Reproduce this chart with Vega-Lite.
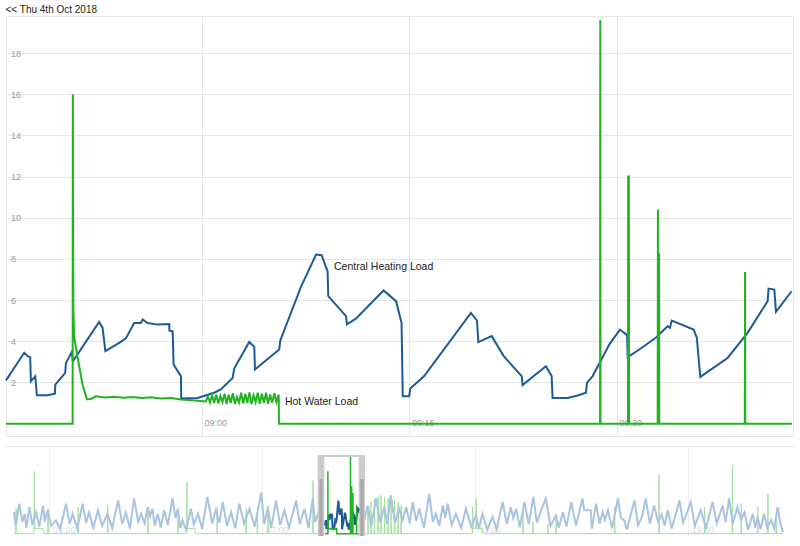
{
"$schema": "https://vega.github.io/schema/vega-lite/v6.json",
"padding": {"left": 1, "top": 4, "right": 3, "bottom": 4},
"title": {"text": "<< Thu 4th Oct 2018", "anchor": "start", "fontSize": 10, "fontWeight": "normal", "color": "#222222", "offset": 1, "dx": 4, "font": "Liberation Sans"},
"spacing": 9,
"config": {"font": "Liberation Sans", "view": {"stroke": "#e6e6e6"}},
"datasets": {
"ch": [
{"t":"2018-10-04T08:45:50","v":2.1},{"t":"2018-10-04T08:47:09","v":3.44},{"t":"2018-10-04T08:47:24","v":3.28},{"t":"2018-10-04T08:47:35","v":3.23},{"t":"2018-10-04T08:47:38","v":2.06},{"t":"2018-10-04T08:47:57","v":2.3},{"t":"2018-10-04T08:48:04","v":1.38},{"t":"2018-10-04T08:48:51","v":1.38},{"t":"2018-10-04T08:49:22","v":1.45},{"t":"2018-10-04T08:49:24","v":1.9},{"t":"2018-10-04T08:50:07","v":2.47},{"t":"2018-10-04T08:50:10","v":2.95},{"t":"2018-10-04T08:50:36","v":3.49},{"t":"2018-10-04T08:50:40","v":3.03},{"t":"2018-10-04T08:52:34","v":4.94},{"t":"2018-10-04T08:52:49","v":4.65},{"t":"2018-10-04T08:53:01","v":3.52},{"t":"2018-10-04T08:54:01","v":3.92},{"t":"2018-10-04T08:54:30","v":4.14},{"t":"2018-10-04T08:55:06","v":4.89},{"t":"2018-10-04T08:55:35","v":4.89},{"t":"2018-10-04T08:55:43","v":5.06},{"t":"2018-10-04T08:56:04","v":4.89},{"t":"2018-10-04T08:56:48","v":4.81},{"t":"2018-10-04T08:57:38","v":4.84},{"t":"2018-10-04T08:57:39","v":4.52},{"t":"2018-10-04T08:57:53","v":4.49},{"t":"2018-10-04T08:57:57","v":2.87},{"t":"2018-10-04T08:58:15","v":2.55},{"t":"2018-10-04T08:58:29","v":2.3},{"t":"2018-10-04T08:58:30","v":1.22},{"t":"2018-10-04T08:59:41","v":1.25},{"t":"2018-10-04T09:00:53","v":1.5},{"t":"2018-10-04T09:01:22","v":1.66},{"t":"2018-10-04T09:02:13","v":2.22},{"t":"2018-10-04T09:02:20","v":2.68},{"t":"2018-10-04T09:03:25","v":3.97},{"t":"2018-10-04T09:03:47","v":3.73},{"t":"2018-10-04T09:03:50","v":2.63},{"t":"2018-10-04T09:05:35","v":3.6},{"t":"2018-10-04T09:05:40","v":4.04},{"t":"2018-10-04T09:07:09","v":6.63},{"t":"2018-10-04T09:07:45","v":7.49},{"t":"2018-10-04T09:08:15","v":8.21},{"t":"2018-10-04T09:08:39","v":8.18},{"t":"2018-10-04T09:09:05","v":7.4},{"t":"2018-10-04T09:09:08","v":6.19},{"t":"2018-10-04T09:10:25","v":5.22},{"t":"2018-10-04T09:10:29","v":4.82},{"t":"2018-10-04T09:11:08","v":5.1},{"t":"2018-10-04T09:13:08","v":6.47},{"t":"2018-10-04T09:14:02","v":5.95},{"t":"2018-10-04T09:14:26","v":4.89},{"t":"2018-10-04T09:14:31","v":1.33},{"t":"2018-10-04T09:14:59","v":1.33},{"t":"2018-10-04T09:15:04","v":1.71},{"t":"2018-10-04T09:16:04","v":2.31},{"t":"2018-10-04T09:19:27","v":5.38},{"t":"2018-10-04T09:19:53","v":5.01},{"t":"2018-10-04T09:19:59","v":3.96},{"t":"2018-10-04T09:20:57","v":4.25},{"t":"2018-10-04T09:21:49","v":3.28},{"t":"2018-10-04T09:23:07","v":2.31},{"t":"2018-10-04T09:23:11","v":1.87},{"t":"2018-10-04T09:24:52","v":2.79},{"t":"2018-10-04T09:25:17","v":2.31},{"t":"2018-10-04T09:25:21","v":1.25},{"t":"2018-10-04T09:26:26","v":1.25},{"t":"2018-10-04T09:27:10","v":1.37},{"t":"2018-10-04T09:27:46","v":1.5},{"t":"2018-10-04T09:27:50","v":1.98},{"t":"2018-10-04T09:28:15","v":2.31},{"t":"2018-10-04T09:29:27","v":3.84},{"t":"2018-10-04T09:30:13","v":4.57},{"t":"2018-10-04T09:30:44","v":4.3},{"t":"2018-10-04T09:30:47","v":3.23},{"t":"2018-10-04T09:31:37","v":3.6},{"t":"2018-10-04T09:32:49","v":4.17},{"t":"2018-10-04T09:33:40","v":4.73},{"t":"2018-10-04T09:33:50","v":4.65},{"t":"2018-10-04T09:33:58","v":5.01},{"t":"2018-10-04T09:35:33","v":4.57},{"t":"2018-10-04T09:35:47","v":4.17},{"t":"2018-10-04T09:35:53","v":3.36},{"t":"2018-10-04T09:36:02","v":2.27},{"t":"2018-10-04T09:38:00","v":3.19},{"t":"2018-10-04T09:39:27","v":4.41},{"t":"2018-10-04T09:40:54","v":5.95},{"t":"2018-10-04T09:40:58","v":6.56},{"t":"2018-10-04T09:41:23","v":6.51},{"t":"2018-10-04T09:41:30","v":5.43},{"t":"2018-10-04T09:42:38","v":6.43}
],
"hw": [
{"t":"2018-10-04T08:45:50","v":0},{"t":"2018-10-04T08:50:39","v":0},{"t":"2018-10-04T08:50:40","v":16.0},{"t":"2018-10-04T08:50:42","v":5.6},{"t":"2018-10-04T08:50:46","v":4.2},{"t":"2018-10-04T08:51:01","v":3.2},{"t":"2018-10-04T08:51:22","v":1.9},{"t":"2018-10-04T08:51:41","v":1.19},{"t":"2018-10-04T08:51:58","v":1.2},{"t":"2018-10-04T08:52:20","v":1.33},{"t":"2018-10-04T08:53:00","v":1.27},{"t":"2018-10-04T08:53:40","v":1.31},{"t":"2018-10-04T08:54:20","v":1.26},{"t":"2018-10-04T08:55:00","v":1.3},{"t":"2018-10-04T08:55:40","v":1.25},{"t":"2018-10-04T08:56:20","v":1.28},{"t":"2018-10-04T08:57:00","v":1.22},{"t":"2018-10-04T08:57:46","v":1.25},{"t":"2018-10-04T08:58:30","v":1.17},{"t":"2018-10-04T08:59:30","v":1.12},{"t":"2018-10-04T09:00:17","v":1.08},
{"t":"2018-10-04T09:00:26","v":1.32},{"t":"2018-10-04T09:00:35","v":1.02},{"t":"2018-10-04T09:00:44","v":1.38},{"t":"2018-10-04T09:00:53","v":1.0},{"t":"2018-10-04T09:01:02","v":1.42},{"t":"2018-10-04T09:01:11","v":0.98},{"t":"2018-10-04T09:01:20","v":1.35},{"t":"2018-10-04T09:01:29","v":1.05},{"t":"2018-10-04T09:01:38","v":1.45},{"t":"2018-10-04T09:01:47","v":0.97},{"t":"2018-10-04T09:01:56","v":1.4},{"t":"2018-10-04T09:02:05","v":1.0},{"t":"2018-10-04T09:02:14","v":1.48},{"t":"2018-10-04T09:02:23","v":0.96},{"t":"2018-10-04T09:02:32","v":1.3},{"t":"2018-10-04T09:02:41","v":1.02},{"t":"2018-10-04T09:02:50","v":1.5},{"t":"2018-10-04T09:02:59","v":0.98},{"t":"2018-10-04T09:03:08","v":1.44},{"t":"2018-10-04T09:03:17","v":1.0},{"t":"2018-10-04T09:03:26","v":1.52},{"t":"2018-10-04T09:03:35","v":0.95},{"t":"2018-10-04T09:03:44","v":1.38},{"t":"2018-10-04T09:03:53","v":1.05},{"t":"2018-10-04T09:04:02","v":1.5},{"t":"2018-10-04T09:04:11","v":0.97},{"t":"2018-10-04T09:04:20","v":1.45},{"t":"2018-10-04T09:04:29","v":1.0},{"t":"2018-10-04T09:04:38","v":1.5},{"t":"2018-10-04T09:04:47","v":0.96},{"t":"2018-10-04T09:04:56","v":1.42},{"t":"2018-10-04T09:05:05","v":1.02},{"t":"2018-10-04T09:05:14","v":1.48},{"t":"2018-10-04T09:05:23","v":1.05},{"t":"2018-10-04T09:05:32","v":1.4},{"t":"2018-10-04T09:05:33","v":1.35},{"t":"2018-10-04T09:05:34","v":0},
{"t":"2018-10-04T09:28:47","v":0},{"t":"2018-10-04T09:28:48","v":19.6},{"t":"2018-10-04T09:28:49","v":0},
{"t":"2018-10-04T09:30:48","v":0},{"t":"2018-10-04T09:30:49","v":12.0},{"t":"2018-10-04T09:30:52","v":12.0},{"t":"2018-10-04T09:30:53","v":0},
{"t":"2018-10-04T09:32:57","v":0},{"t":"2018-10-04T09:32:58","v":10.4},{"t":"2018-10-04T09:32:59","v":0},{"t":"2018-10-04T09:33:02","v":0},{"t":"2018-10-04T09:33:03","v":8.3},{"t":"2018-10-04T09:33:04","v":0},
{"t":"2018-10-04T09:39:15","v":0},{"t":"2018-10-04T09:39:16","v":7.37},{"t":"2018-10-04T09:39:17","v":0},{"t":"2018-10-04T09:42:40","v":0}
],
"labels": [
{"t":"2018-10-04T09:09:33","v":7.6,"label":"Central Heating Load"},
{"t":"2018-10-04T09:06:00","v":1.04,"label":"Hot Water Load"}
],
"ovch": [
{"t":"2018-10-04T00:00:00","v":5.5},{"t":"2018-10-04T00:03:00","v":2.0},{"t":"2018-10-04T00:09:00","v":7.7},{"t":"2018-10-04T00:14:00","v":3.0},{"t":"2018-10-04T00:18:00","v":5.0},{"t":"2018-10-04T00:21:00","v":1.5},{"t":"2018-10-04T00:26:00","v":6.8},{"t":"2018-10-04T00:31:00","v":2.2},{"t":"2018-10-04T00:37:00","v":5.5},{"t":"2018-10-04T00:43:00","v":1.8},{"t":"2018-10-04T00:49:00","v":7.2},{"t":"2018-10-04T00:52:00","v":3.0},{"t":"2018-10-04T00:57:00","v":6.0},{"t":"2018-10-04T01:03:00","v":2.0},{"t":"2018-10-04T01:11:00","v":3.4},{"t":"2018-10-04T01:18:00","v":1.2},{"t":"2018-10-04T01:28:00","v":7.7},{"t":"2018-10-04T01:34:00","v":2.5},{"t":"2018-10-04T01:39:00","v":5.1},{"t":"2018-10-04T01:47:00","v":1.3},{"t":"2018-10-04T01:56:00","v":7.7},{"t":"2018-10-04T02:02:00","v":2.8},{"t":"2018-10-04T02:07:00","v":5.5},{"t":"2018-10-04T02:14:00","v":1.5},{"t":"2018-10-04T02:22:00","v":6.0},{"t":"2018-10-04T02:29:00","v":2.0},{"t":"2018-10-04T02:38:00","v":5.1},{"t":"2018-10-04T02:46:00","v":1.4},{"t":"2018-10-04T02:56:00","v":8.5},{"t":"2018-10-04T03:03:00","v":2.5},{"t":"2018-10-04T03:09:00","v":5.5},{"t":"2018-10-04T03:16:00","v":1.3},{"t":"2018-10-04T03:23:00","v":9.0},{"t":"2018-10-04T03:30:00","v":3.0},{"t":"2018-10-04T03:35:00","v":5.1},{"t":"2018-10-04T03:41:00","v":2.6},{"t":"2018-10-04T03:46:00","v":6.8},{"t":"2018-10-04T03:50:00","v":4.5},{"t":"2018-10-04T03:54:00","v":6.4},{"t":"2018-10-04T03:58:00","v":2.0},{"t":"2018-10-04T04:03:00","v":5.1},{"t":"2018-10-04T04:08:00","v":1.6},{"t":"2018-10-04T04:14:00","v":6.0},{"t":"2018-10-04T04:20:00","v":2.2},{"t":"2018-10-04T04:28:00","v":9.0},{"t":"2018-10-04T04:33:00","v":4.0},{"t":"2018-10-04T04:37:00","v":6.4},{"t":"2018-10-04T04:41:00","v":1.5},{"t":"2018-10-04T04:45:00","v":3.4},{"t":"2018-10-04T04:51:00","v":0.9},{"t":"2018-10-04T04:59:00","v":6.4},{"t":"2018-10-04T05:04:00","v":2.4},{"t":"2018-10-04T05:11:00","v":5.1},{"t":"2018-10-04T05:18:00","v":1.2},{"t":"2018-10-04T05:27:00","v":9.4},{"t":"2018-10-04T05:35:00","v":2.6},{"t":"2018-10-04T05:41:00","v":6.0},{"t":"2018-10-04T05:47:00","v":2.8},{"t":"2018-10-04T05:53:00","v":8.1},{"t":"2018-10-04T06:00:00","v":2.0},{"t":"2018-10-04T06:07:00","v":5.5},{"t":"2018-10-04T06:14:00","v":1.4},{"t":"2018-10-04T06:21:00","v":7.7},{"t":"2018-10-04T06:29:00","v":2.5},{"t":"2018-10-04T06:38:00","v":6.4},{"t":"2018-10-04T06:47:00","v":1.8},{"t":"2018-10-04T06:58:00","v":10.5},{"t":"2018-10-04T07:03:00","v":2.5},{"t":"2018-10-04T07:09:00","v":6.4},{"t":"2018-10-04T07:15:00","v":1.5},{"t":"2018-10-04T07:23:00","v":8.5},{"t":"2018-10-04T07:30:00","v":2.2},{"t":"2018-10-04T07:37:00","v":6.0},{"t":"2018-10-04T07:45:00","v":1.6},{"t":"2018-10-04T07:57:00","v":8.5},{"t":"2018-10-04T08:03:00","v":2.4},{"t":"2018-10-04T08:11:00","v":6.4},{"t":"2018-10-04T08:18:00","v":1.4},{"t":"2018-10-04T08:25:00","v":9.0},{"t":"2018-10-04T08:29:00","v":3.0},{"t":"2018-10-04T08:34:00","v":5.0},{"t":"2018-10-04T08:39:00","v":2.0},{"t":"2018-10-04T09:50:00","v":2.0},{"t":"2018-10-04T09:58:00","v":7.2},{"t":"2018-10-04T10:04:00","v":2.0},{"t":"2018-10-04T10:12:00","v":9.0},{"t":"2018-10-04T10:19:00","v":3.0},{"t":"2018-10-04T10:26:00","v":6.8},{"t":"2018-10-04T10:31:00","v":2.5},{"t":"2018-10-04T10:37:00","v":9.8},{"t":"2018-10-04T10:44:00","v":2.8},{"t":"2018-10-04T10:51:00","v":6.4},{"t":"2018-10-04T10:57:00","v":3.5},{"t":"2018-10-04T11:03:00","v":6.8},{"t":"2018-10-04T11:09:00","v":2.6},{"t":"2018-10-04T11:14:00","v":8.1},{"t":"2018-10-04T11:20:00","v":3.2},{"t":"2018-10-04T11:25:00","v":6.4},{"t":"2018-10-04T11:33:00","v":1.5},{"t":"2018-10-04T11:42:00","v":10.2},{"t":"2018-10-04T11:48:00","v":3.0},{"t":"2018-10-04T11:53:00","v":5.1},{"t":"2018-10-04T11:59:00","v":2.0},{"t":"2018-10-04T12:05:00","v":7.2},{"t":"2018-10-04T12:09:00","v":4.0},{"t":"2018-10-04T12:13:00","v":7.7},{"t":"2018-10-04T12:20:00","v":2.2},{"t":"2018-10-04T12:27:00","v":5.1},{"t":"2018-10-04T12:36:00","v":1.5},{"t":"2018-10-04T12:44:00","v":6.4},{"t":"2018-10-04T12:53:00","v":1.8},{"t":"2018-10-04T13:01:00","v":4.7},{"t":"2018-10-04T13:06:00","v":1.3},{"t":"2018-10-04T13:12:00","v":5.1},{"t":"2018-10-04T13:20:00","v":1.0},{"t":"2018-10-04T13:29:00","v":4.3},{"t":"2018-10-04T13:36:00","v":1.2},{"t":"2018-10-04T13:46:00","v":8.1},{"t":"2018-10-04T13:53:00","v":2.5},{"t":"2018-10-04T14:00:00","v":6.8},{"t":"2018-10-04T14:04:00","v":4.0},{"t":"2018-10-04T14:09:00","v":6.4},{"t":"2018-10-04T14:15:00","v":1.6},{"t":"2018-10-04T14:23:00","v":8.1},{"t":"2018-10-04T14:30:00","v":2.4},{"t":"2018-10-04T14:38:00","v":9.4},{"t":"2018-10-04T14:44:00","v":2.8},{"t":"2018-10-04T14:51:00","v":6.0},{"t":"2018-10-04T14:59:00","v":9.0},{"t":"2018-10-04T15:07:00","v":2.0},{"t":"2018-10-04T15:16:00","v":4.7},{"t":"2018-10-04T15:21:00","v":1.5},{"t":"2018-10-04T15:28:00","v":5.5},{"t":"2018-10-04T15:34:00","v":1.8},{"t":"2018-10-04T15:42:00","v":8.1},{"t":"2018-10-04T15:50:00","v":2.0},{"t":"2018-10-04T16:01:00","v":9.0},{"t":"2018-10-04T16:04:00","v":6.0},{"t":"2018-10-04T16:15:00","v":6.0},{"t":"2018-10-04T16:17:00","v":1.3},{"t":"2018-10-04T16:24:00","v":7.7},{"t":"2018-10-04T16:30:00","v":2.6},{"t":"2018-10-04T16:35:00","v":5.5},{"t":"2018-10-04T16:39:00","v":3.5},{"t":"2018-10-04T16:44:00","v":6.0},{"t":"2018-10-04T16:51:00","v":1.4},{"t":"2018-10-04T17:01:00","v":9.0},{"t":"2018-10-04T17:06:00","v":4.0},{"t":"2018-10-04T17:12:00","v":3.4},{"t":"2018-10-04T17:16:00","v":1.0},{"t":"2018-10-04T17:29:00","v":8.5},{"t":"2018-10-04T17:35:00","v":2.2},{"t":"2018-10-04T17:42:00","v":4.5},{"t":"2018-10-04T17:48:00","v":9.0},{"t":"2018-10-04T17:55:00","v":2.5},{"t":"2018-10-04T18:02:00","v":7.2},{"t":"2018-10-04T18:09:00","v":3.0},{"t":"2018-10-04T18:15:00","v":5.0},{"t":"2018-10-04T18:20:00","v":2.0},{"t":"2018-10-04T18:25:00","v":6.0},{"t":"2018-10-04T18:32:00","v":1.3},{"t":"2018-10-04T18:45:00","v":8.5},{"t":"2018-10-04T18:51:00","v":2.8},{"t":"2018-10-04T18:58:00","v":5.5},{"t":"2018-10-04T19:04:00","v":8.1},{"t":"2018-10-04T19:11:00","v":2.0},{"t":"2018-10-04T19:21:00","v":6.0},{"t":"2018-10-04T19:30:00","v":1.5},{"t":"2018-10-04T19:41:00","v":8.1},{"t":"2018-10-04T19:48:00","v":2.6},{"t":"2018-10-04T19:58:00","v":7.2},{"t":"2018-10-04T20:03:00","v":3.0},{"t":"2018-10-04T20:09:00","v":9.0},{"t":"2018-10-04T20:15:00","v":2.4},{"t":"2018-10-04T20:23:00","v":6.8},{"t":"2018-10-04T20:29:00","v":3.5},{"t":"2018-10-04T20:35:00","v":5.5},{"t":"2018-10-04T20:41:00","v":1.0},{"t":"2018-10-04T20:49:00","v":5.1},{"t":"2018-10-04T20:53:00","v":1.5},{"t":"2018-10-04T20:57:00","v":4.3},{"t":"2018-10-04T21:02:00","v":1.2},{"t":"2018-10-04T21:08:00","v":5.1},{"t":"2018-10-04T21:13:00","v":1.6},{"t":"2018-10-04T21:20:00","v":3.5},{"t":"2018-10-04T21:25:00","v":1.4},{"t":"2018-10-04T21:31:00","v":6.8},{"t":"2018-10-04T21:35:00","v":3.0},{"t":"2018-10-04T21:40:00","v":0.4}
],
"ovhw": [
{"t":"2018-10-04T00:00:00","v":0},
{"t":"2018-10-04T00:03:00","v":0},{"t":"2018-10-04T00:03:30","v":6.4},{"t":"2018-10-04T00:04:00","v":0},
{"t":"2018-10-04T00:34:00","v":0},{"t":"2018-10-04T00:34:30","v":15.9},{"t":"2018-10-04T00:35:00","v":1.3},{"t":"2018-10-04T00:49:00","v":1.3},{"t":"2018-10-04T00:49:30","v":0},
{"t":"2018-10-04T00:57:00","v":0},{"t":"2018-10-04T00:57:30","v":6.4},{"t":"2018-10-04T00:58:00","v":0},
{"t":"2018-10-04T01:48:00","v":0},{"t":"2018-10-04T01:48:30","v":6.8},{"t":"2018-10-04T01:49:00","v":0},
{"t":"2018-10-04T02:38:00","v":0},{"t":"2018-10-04T02:38:30","v":7.2},{"t":"2018-10-04T02:39:00","v":0},
{"t":"2018-10-04T03:46:00","v":0},{"t":"2018-10-04T03:46:30","v":6.4},{"t":"2018-10-04T03:47:00","v":0},
{"t":"2018-10-04T04:37:00","v":0},{"t":"2018-10-04T04:37:30","v":6.4},{"t":"2018-10-04T04:38:00","v":0},
{"t":"2018-10-04T04:52:00","v":0},{"t":"2018-10-04T04:52:30","v":13.2},{"t":"2018-10-04T04:53:00","v":1.3},{"t":"2018-10-04T05:06:00","v":1.3},{"t":"2018-10-04T05:06:30","v":0},
{"t":"2018-10-04T05:43:00","v":0},{"t":"2018-10-04T05:43:30","v":6.8},{"t":"2018-10-04T05:44:00","v":0},
{"t":"2018-10-04T06:32:00","v":0},{"t":"2018-10-04T06:32:30","v":6.4},{"t":"2018-10-04T06:33:00","v":0},
{"t":"2018-10-04T06:51:00","v":0},{"t":"2018-10-04T06:51:30","v":6.8},{"t":"2018-10-04T06:52:00","v":0},
{"t":"2018-10-04T07:09:00","v":0},{"t":"2018-10-04T07:09:30","v":7.2},{"t":"2018-10-04T07:10:00","v":0},
{"t":"2018-10-04T08:25:00","v":0},{"t":"2018-10-04T08:25:30","v":13.6},{"t":"2018-10-04T08:26:00","v":0},
{"t":"2018-10-04T09:58:00","v":0},{"t":"2018-10-04T09:58:30","v":7.2},{"t":"2018-10-04T09:59:00","v":0},
{"t":"2018-10-04T10:03:00","v":0},{"t":"2018-10-04T10:03:30","v":8.1},{"t":"2018-10-04T10:04:00","v":0},
{"t":"2018-10-04T10:09:00","v":0},{"t":"2018-10-04T10:09:30","v":9.0},{"t":"2018-10-04T10:10:00","v":0},
{"t":"2018-10-04T10:15:00","v":0},{"t":"2018-10-04T10:15:30","v":9.4},{"t":"2018-10-04T10:16:00","v":0},
{"t":"2018-10-04T10:20:00","v":0},{"t":"2018-10-04T10:20:30","v":9.8},{"t":"2018-10-04T10:21:00","v":0},
{"t":"2018-10-04T10:26:00","v":0},{"t":"2018-10-04T10:26:30","v":9.4},{"t":"2018-10-04T10:27:00","v":0},
{"t":"2018-10-04T10:32:00","v":0},{"t":"2018-10-04T10:32:30","v":9.0},{"t":"2018-10-04T10:33:00","v":0},
{"t":"2018-10-04T10:37:00","v":0},{"t":"2018-10-04T10:37:30","v":8.5},{"t":"2018-10-04T10:38:00","v":0},
{"t":"2018-10-04T10:43:00","v":0},{"t":"2018-10-04T10:43:30","v":8.5},{"t":"2018-10-04T10:44:00","v":0},
{"t":"2018-10-04T10:49:00","v":0},{"t":"2018-10-04T10:49:30","v":8.1},{"t":"2018-10-04T10:50:00","v":0},
{"t":"2018-10-04T10:54:00","v":0},{"t":"2018-10-04T10:54:30","v":7.2},{"t":"2018-10-04T10:55:00","v":0},
{"t":"2018-10-04T12:55:00","v":0},{"t":"2018-10-04T12:55:30","v":6.8},{"t":"2018-10-04T12:56:00","v":1.3},{"t":"2018-10-04T13:01:00","v":1.3},{"t":"2018-10-04T13:01:30","v":9.0},{"t":"2018-10-04T13:02:00","v":1.3},{"t":"2018-10-04T13:12:00","v":1.3},{"t":"2018-10-04T13:12:30","v":0},
{"t":"2018-10-04T14:20:00","v":0},{"t":"2018-10-04T14:20:30","v":5.5},{"t":"2018-10-04T14:21:00","v":0},
{"t":"2018-10-04T14:37:00","v":0},{"t":"2018-10-04T14:37:30","v":3.0},{"t":"2018-10-04T14:38:00","v":0},
{"t":"2018-10-04T15:02:00","v":0},{"t":"2018-10-04T15:02:30","v":2.6},{"t":"2018-10-04T15:03:00","v":0},
{"t":"2018-10-04T15:16:00","v":0},{"t":"2018-10-04T15:16:30","v":4.7},{"t":"2018-10-04T15:17:00","v":0},
{"t":"2018-10-04T16:55:00","v":0},{"t":"2018-10-04T16:55:30","v":6.8},{"t":"2018-10-04T16:56:00","v":0},
{"t":"2018-10-04T18:10:00","v":0},{"t":"2018-10-04T18:10:30","v":15.2},{"t":"2018-10-04T18:11:00","v":0},
{"t":"2018-10-04T19:27:00","v":0},{"t":"2018-10-04T19:27:30","v":6.8},{"t":"2018-10-04T19:28:00","v":0},
{"t":"2018-10-04T20:14:00","v":0},{"t":"2018-10-04T20:14:30","v":17.3},{"t":"2018-10-04T20:15:00","v":0},
{"t":"2018-10-04T20:29:00","v":0},{"t":"2018-10-04T20:29:30","v":7.7},{"t":"2018-10-04T20:30:00","v":0},
{"t":"2018-10-04T20:57:00","v":0},{"t":"2018-10-04T20:57:30","v":6.8},{"t":"2018-10-04T20:58:00","v":0},
{"t":"2018-10-04T21:14:00","v":0},{"t":"2018-10-04T21:14:30","v":10.2},{"t":"2018-10-04T21:15:00","v":0},
{"t":"2018-10-04T21:28:00","v":0},{"t":"2018-10-04T21:28:30","v":4.3},{"t":"2018-10-04T21:29:00","v":0},
{"t":"2018-10-04T21:40:00","v":0}
],
"frame": [{"t0":"2018-10-04T08:33:24","t1":"2018-10-04T09:53:24"}],
"inner": [{"t0":"2018-10-04T08:44:36","t1":"2018-10-04T09:42:40"}],
"handles": [{"t0":"2018-10-04T08:36:06","t1":"2018-10-04T08:41:54"},{"t0":"2018-10-04T09:45:25","t1":"2018-10-04T09:51:12"}]
},
"vconcat": [
{
"width": 787, "height": 420,
"layer": [
{"data": {"name": "ch"},
 "mark": {"type": "line", "color": "#1d5b98", "strokeWidth": 2},
 "encoding": {
  "x": {"field": "t", "type": "temporal",
   "scale": {"domain": [{"year":2018,"month":10,"date":4,"hours":8,"minutes":45,"seconds":50},{"year":2018,"month":10,"date":4,"hours":9,"minutes":42,"seconds":44}]},
   "axis": {"title": null, "format": "%H:%M", "values": [{"year":2018,"month":10,"date":4,"hours":9,"minutes":0},{"year":2018,"month":10,"date":4,"hours":9,"minutes":15},{"year":2018,"month":10,"date":4,"hours":9,"minutes":30}], "labelAlign": "left", "labelBaseline": "middle", "labelPadding": -14, "labelOffset": 2, "labelColor": "#999999", "labelFontSize": 9, "ticks": false, "tickSize": 0, "domain": false, "grid": true, "gridColor": "#e6e6e6", "labelFlush": false, "labelOverlap": false}},
  "y": {"field": "v", "type": "quantitative",
   "scale": {"domain": [-0.6, 19.8], "nice": false, "zero": false},
   "axis": {"title": null, "values": [2,4,6,8,10,12,14,16,18], "labelAlign": "left", "labelBaseline": "middle", "labelPadding": -4.5, "labelColor": "#999999", "labelFontSize": 9, "ticks": false, "tickSize": 0, "domain": false, "grid": true, "gridColor": "#e6e6e6"}}
 }},
{"data": {"name": "hw"},
 "mark": {"type": "line", "color": "#22b222", "strokeWidth": 2},
 "encoding": {"x": {"field": "t", "type": "temporal"}, "y": {"field": "v", "type": "quantitative"}}},
{"data": {"name": "labels"},
 "mark": {"type": "text", "align": "left", "baseline": "middle", "fontSize": 10.5, "color": "#222222"},
 "encoding": {"x": {"field": "t", "type": "temporal"}, "y": {"field": "v", "type": "quantitative"}, "text": {"field": "label"}}}
]
},
{
"width": 787, "height": 90,
"view": {"stroke": null},
"layer": [
{"data": {"name": "ovhw"},
 "mark": {"type": "line", "color": "#a3e09e", "strokeWidth": 1},
 "encoding": {
  "x": {"field": "t", "type": "temporal",
   "scale": {"domain": [{"year":2018,"month":10,"date":3,"hours":23,"minutes":46,"seconds":30},{"year":2018,"month":10,"date":4,"hours":21,"minutes":56,"seconds":54}]},
   "axis": {"title": null, "format": "%H:%M", "values": [{"year":2018,"month":10,"date":4,"hours":1,"minutes":0},{"year":2018,"month":10,"date":4,"hours":7,"minutes":0},{"year":2018,"month":10,"date":4,"hours":13,"minutes":0},{"year":2018,"month":10,"date":4,"hours":19,"minutes":0}], "labelAlign": "left", "labelBaseline": "middle", "labelPadding": -7, "labelOffset": 3, "labelColor": "#dddddd", "labelFontSize": 9, "ticks": false, "tickSize": 0, "domain": false, "grid": true, "gridColor": "#f0f0f0", "labelFlush": false}},
  "y": {"field": "v", "type": "quantitative", "scale": {"domain": [-0.59, 22.43], "nice": false, "zero": false},
   "axis": {"title": null, "values": [22.4], "labels": false, "ticks": false, "domain": false, "grid": true, "gridColor": "#e6e6e6"}}
 }},
{"data": {"name": "ovch"},
 "mark": {"type": "line", "color": "#a8c4e0", "strokeWidth": 2},
 "encoding": {"x": {"field": "t", "type": "temporal"}, "y": {"field": "v", "type": "quantitative"}}},
{"data": {"name": "frame"},
 "mark": {"type": "rect", "color": "#cccccc", "yOffset": 9},
 "encoding": {"x": {"field": "t0", "type": "temporal"}, "x2": {"field": "t1"}}},
{"data": {"name": "inner"},
 "mark": {"type": "rect", "color": "#ffffff", "yOffset": 11, "y2Offset": -2},
 "encoding": {"x": {"field": "t0", "type": "temporal"}, "x2": {"field": "t1"}}},
{"data": {"name": "handles"},
 "mark": {"type": "rect", "color": "#aaaaaa", "yOffset": 33, "y2Offset": -24},
 "encoding": {"x": {"field": "t0", "type": "temporal"}, "x2": {"field": "t1"}}},
{"data": {"name": "ch"},
 "mark": {"type": "line", "color": "#1d5b98", "strokeWidth": 2},
 "encoding": {"x": {"field": "t", "type": "temporal"}, "y": {"field": "v", "type": "quantitative"}}},
{"data": {"name": "hw"},
 "mark": {"type": "line", "color": "#22b222", "strokeWidth": 1.5},
 "encoding": {"x": {"field": "t", "type": "temporal"}, "y": {"field": "v", "type": "quantitative"}}}
]
}
]
}
